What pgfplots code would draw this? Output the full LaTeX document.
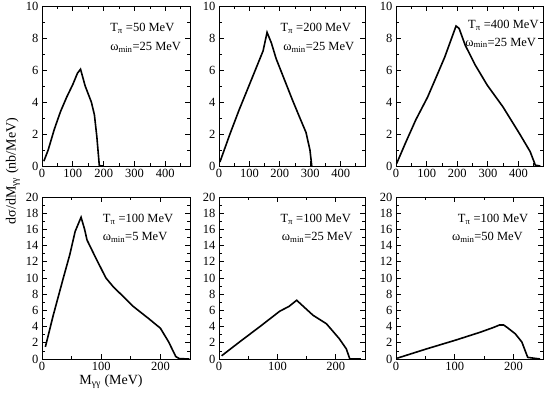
\documentclass[border=0pt]{standalone}
\usepackage{fontspec}
\setmainfont{Liberation Serif}
\usepackage{pgfplots}
\pgfplotsset{compat=1.18}
\pgfplotsset{
  panel/.style={scale only axis, width=148pt, axis line style={line width=0.8pt},
    tick align=inside, major tick length=5pt, minor tick length=3pt,
    every tick/.style={line width=0.8pt,black},
    ticklabel style={font=\fontsize{12.5}{12.5}\selectfont},
    /pgf/number format/assume math mode=true, clip=false,
    anchor=south west},
  toprow/.style={panel, height=160pt, xmin=0, xmax=480, ymin=0, ymax=10,
    xtick={0,100,...,400}, minor xtick={50,150,...,450},
    ytick={0,2,...,10}, minor ytick={1,3,...,9}},
  botrow/.style={panel, height=162pt, xmin=0, xmax=250, ymin=0, ymax=20,
    xtick={0,100,200}, minor xtick={50,150},
    ytick={0,2,...,20}, minor ytick={1,3,...,19}},
  curve/.style={black, line width=1.6pt, no marks}
}
\tikzset{note/.style={anchor=west, font=\fontsize{12.5}{12.5}\selectfont, inner sep=0pt}}
\begin{document}
\begin{tikzpicture}
\path[use as bounding box] (0pt,0pt) rectangle (545pt,397pt);

\begin{axis}[toprow, at={(42pt,231pt)}]
\addplot[curve] coordinates {(6,0.3) (20,1.0) (40,2.3) (60,3.4) (80,4.3) (100,5.1) (115,5.8) (125,6.05) (140,5.0) (160,4.0) (170,3.2) (178,1.8) (186,0) (200,0)};
\node[note] at (rel axis cs:0.46,0.86) {T\textsubscript{π} =50 MeV};
\node[note] at (rel axis cs:0.46,0.74) {ω\textsubscript{min}=25 MeV};
\end{axis}

\begin{axis}[toprow, at={(219pt,231pt)}, width=146pt]
\addplot[curve] coordinates {(3,0.25) (36,2.0) (66,3.5) (96,4.9) (128,6.4) (145,7.2) (158,8.35) (172,7.7) (188,6.7) (215,5.4) (242,4.1) (266,3.0) (286,2.1) (299,1.0) (305,0)};
\node[note] at (rel axis cs:0.42,0.86) {T\textsubscript{π} =200 MeV};
\node[note] at (rel axis cs:0.44,0.74) {ω\textsubscript{min}=25 MeV};
\end{axis}

\begin{axis}[toprow, at={(396pt,231pt)}, width=147pt]
\addplot[curve] coordinates {(2,0.15) (30,1.4) (65,2.9) (103,4.3) (130,5.5) (159,6.8) (178,7.8) (196,8.75) (206,8.6) (226,7.55) (259,6.3) (298,5.05) (349,3.7) (404,2.0) (438,0.9) (455,0.05) (471,0)};
\node[note] at (rel axis cs:0.49,0.88) {T\textsubscript{π} =400 MeV};
\node[note] at (rel axis cs:0.47,0.77) {ω\textsubscript{min}=25 MeV};
\end{axis}

\begin{axis}[botrow, at={(42pt,38pt)}]
\addplot[curve] coordinates {(5.7,1.5) (19,5.4) (36,10.0) (47,12.9) (56,15.75) (66,17.5) (72,16.0) (76,14.7) (91,12.45) (108,10.0) (120,8.95) (154,6.5) (180,5.0) (200,3.8) (214,2.1) (226,0.3) (232,0.05) (249,0)};
\node[note] at (rel axis cs:0.41,0.86) {T\textsubscript{π} =100 MeV};
\node[note] at (rel axis cs:0.41,0.75) {ω\textsubscript{min}=5 MeV};
\end{axis}

\begin{axis}[botrow, at={(219pt,38pt)}, width=146pt]
\addplot[curve] coordinates {(4.5,0.4) (36,2.15) (70,4.0) (104,5.9) (120,6.5) (133,7.25) (161,5.4) (184,4.35) (206,2.5) (218,1.25) (224,0) (243,0)};
\node[note] at (rel axis cs:0.42,0.86) {T\textsubscript{π} =100 MeV};
\node[note] at (rel axis cs:0.43,0.75) {ω\textsubscript{min}=25 MeV};
\end{axis}

\begin{axis}[botrow, at={(396pt,38pt)}, width=147pt]
\addplot[curve] coordinates {(2,0.1) (52,1.25) (100,2.3) (143,3.3) (166,3.9) (176,4.2) (183,4.2) (189,3.9) (203,3.1) (214,2.1) (224,0.2) (245,0)};
\node[note] at (rel axis cs:0.42,0.86) {T\textsubscript{π} =100 MeV};
\node[note] at (rel axis cs:0.38,0.75) {ω\textsubscript{min}=50 MeV};
\end{axis}

\node[rotate=90, font=\fontsize{14}{14}\selectfont] at (13pt,226pt) {dσ/dM\textsubscript{γγ} (nb/MeV)};
\node[font=\fontsize{14}{14}\selectfont] at (111pt,15pt) {M\textsubscript{γγ} (MeV)};
\end{tikzpicture}
\end{document}
